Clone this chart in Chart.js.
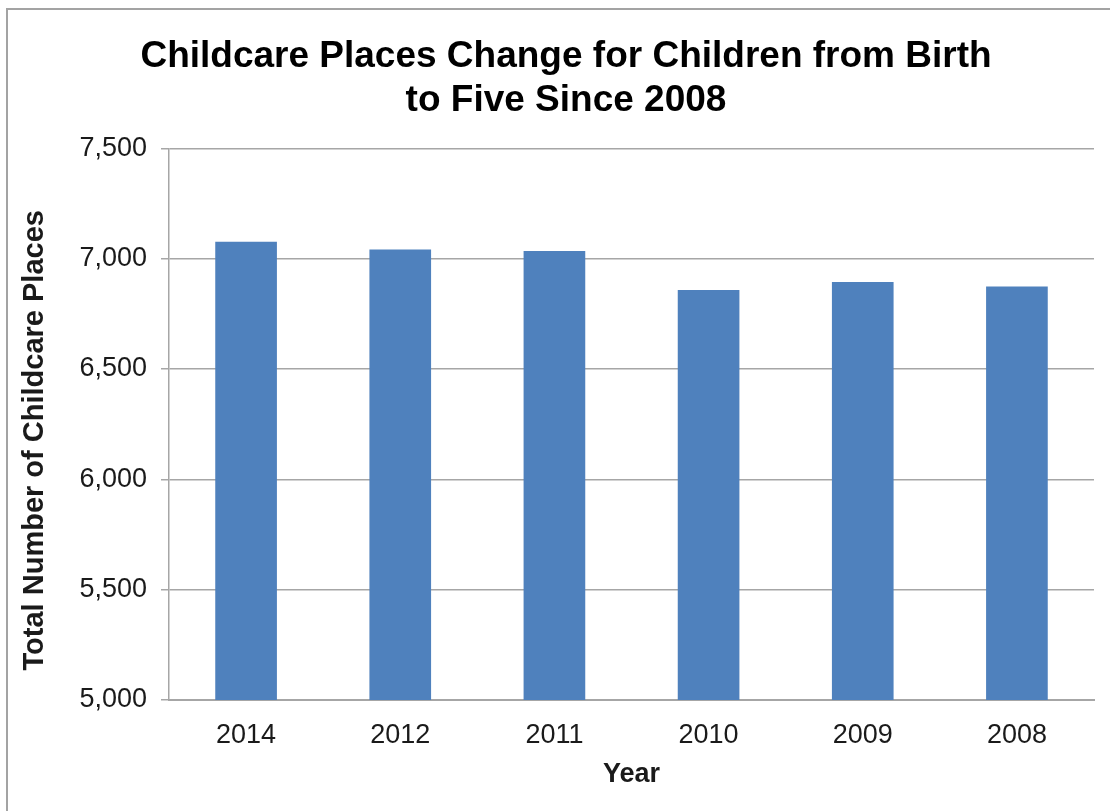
<!DOCTYPE html>
<html>
<head>
<meta charset="utf-8">
<title>Childcare Places</title>
<script src="https://cdn.jsdelivr.net/npm/chart.js@4/dist/chart.umd.min.js"></script>
<style>
  html, body { margin: 0; padding: 0; background: #fff; }
  #wrap { position: relative; width: 1110px; height: 811px; }
</style>
</head>
<body>
<div id="wrap"><canvas id="chart"></canvas></div>
<script>
// Places by year, newest first
const years = ['2014', '2012', '2011', '2010', '2009', '2008'];
const places = [7077, 7041, 7035, 6858, 6894, 6874];
const yTicks = [5000, 5500, 6000, 6500, 7000, 7500];

const FONT = '"Liberation Sans", Arial, sans-serif';
const GRID = '#a6a6a6';
const PAD_LEFT = 38;

// frame around the chart (only top and left edges show)
const framePlugin = {
    id: 'frame',
    beforeDraw(chart) {
        const ctx = chart.ctx;
        ctx.save();
        ctx.strokeStyle = '#a3a3a3';
        ctx.lineWidth = 2;
        ctx.beginPath();
        ctx.moveTo(7, chart.height);
        ctx.lineTo(7, 9);
        ctx.lineTo(chart.width, 9);
        ctx.stroke();
        ctx.restore();
    }
};

new Chart(document.getElementById('chart'), {
    type: 'bar',
    data: {
        labels: years,
        datasets: [{
            label: 'Total Number of Childcare Places',
            data: places,
            backgroundColor: '#4f81bd',
            barPercentage: 0.4,
            categoryPercentage: 1
        }]
    },
    options: {
        responsive: true,
        maintainAspectRatio: false,
        animation: false,
        layout: { padding: { left: PAD_LEFT, right: 16, top: 0, bottom: 0 } },
        plugins: {
            legend: { display: false },
            tooltip: { enabled: false },
            title: {
                display: true,
                text: ['Childcare Places Change for Children from Birth', 'to Five Since 2008'],
                color: '#000',
                font: { family: FONT, size: 37, weight: 'bold', lineHeight: 1.18 },
                padding: { top: 35, bottom: 26 }
            }
        },
        scales: {
            x: {
                grid: { display: false, drawTicks: false },
                border: { color: GRID, width: 2 },
                ticks: {
                    color: '#1a1a1a',
                    padding: 19,
                    font: { family: FONT, size: 27 }
                },
                title: {
                    display: true,
                    text: 'Year',
                    color: '#1a1a1a',
                    font: { family: FONT, size: 27, weight: 'bold' },
                    padding: { top: 0, bottom: 20 }
                },
                afterFit(scale) { scale.height = 111; }
            },
            y: {
                min: 5000,
                max: 7500,
                afterBuildTicks(scale) {
                    scale.ticks = yTicks.map(v => ({ value: v }));
                },
                grid: { color: GRID, lineWidth: 1.5, tickLength: 8 },
                border: { color: GRID, width: 1.5 },
                ticks: {
                    color: '#1a1a1a',
                    padding: 14,
                    font: { family: FONT, size: 27 },
                    callback: v => v.toLocaleString('en-US')
                },
                title: {
                    display: true,
                    // trailing spaces nudge the rotated title a little lower
                    text: 'Total Number of Childcare Places\u00a0\u00a0\u00a0\u00a0',
                    color: '#1a1a1a',
                    font: { family: FONT, size: 29, weight: 'bold' },
                    // title sits left of the padded area, hence the negative offset
                    padding: { top: 18 - PAD_LEFT, bottom: 0 }
                },
                afterFit(scale) { scale.width = 169 - PAD_LEFT; }
            }
        }
    },
    plugins: [framePlugin]
});
</script>
</body>
</html>
